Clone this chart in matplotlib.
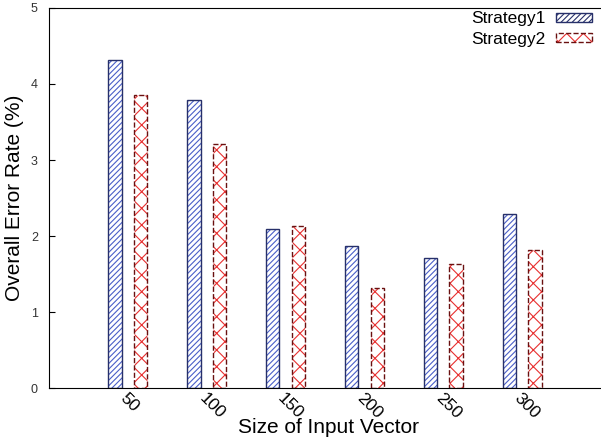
import matplotlib
matplotlib.use("Agg")
import matplotlib.pyplot as plt
from matplotlib.patches import Patch
import numpy as np

plt.rcParams['font.family'] = ['Liberation Sans', 'DejaVu Sans']
plt.rcParams['hatch.linewidth'] = 0.8

categories = ["50", "100", "150", "200", "250", "300"]
strategy1 = [4.32, 3.79, 2.09, 1.87, 1.71, 2.29]
strategy2 = [3.86, 3.21, 2.13, 1.32, 1.63, 1.82]
series_names = ["Strategy1", "Strategy2"]

fig = plt.figure(figsize=(6.01, 4.42), dpi=100)
ax = fig.add_axes([0.0815, 0.122, 0.9185, 0.86])

x = np.arange(1, len(categories) + 1)
w = 0.17
off = 0.163

b1 = ax.bar(x - off, strategy1, w, facecolor='white', edgecolor='#27306a',
            hatch='//////', linewidth=1.0)
for p in b1:
    p._hatch_color = matplotlib.colors.to_rgba('#4a5fc8')
b2 = ax.bar(x + off, strategy2, w, facecolor='white', edgecolor='#6a1010',
            hatch='xx', linewidth=1.0, linestyle='--')
for p in b2:
    p._hatch_color = matplotlib.colors.to_rgba('#e83030')

ax.set_xlim(0, 7)
ax.set_ylim(0, 5)
ax.set_yticks([0, 1, 2, 3, 4, 5])
ax.tick_params(axis='y', direction='in', length=4, labelsize=9, labelcolor='#333333', pad=8)
ax.set_xticks(x)
ax.set_xticklabels(categories, rotation=-45, ha='left', va='top',
                   rotation_mode='anchor', fontsize=12.5)
ax.tick_params(axis='x', length=0, pad=2)
ax.spines['right'].set_visible(False)

ax.set_ylabel("Overall Error Rate (%)", fontsize=15)
ax.yaxis.set_label_coords(-0.045, 0.5)
ax.set_xlabel("Size of Input Vector", fontsize=15)
ax.xaxis.set_label_coords(0.507, -0.078)

h1 = Patch(facecolor='white', edgecolor='#27306a', hatch='//////')
h1._hatch_color = matplotlib.colors.to_rgba('#27306a')
h2 = Patch(facecolor='white', edgecolor='#6a1010', hatch='xx', linestyle='--')
h2._hatch_color = matplotlib.colors.to_rgba('#e83030')
ax.legend([h1, h2], series_names, loc='upper right', frameon=False,
          markerfirst=False, fontsize=12.5, handlelength=2.1, handleheight=0.4,
          borderaxespad=0.0, borderpad=0.2, handletextpad=0.6, labelspacing=0.3,
          bbox_to_anchor=(0.99, 1.0))

fig.savefig("out.png", dpi=100)
